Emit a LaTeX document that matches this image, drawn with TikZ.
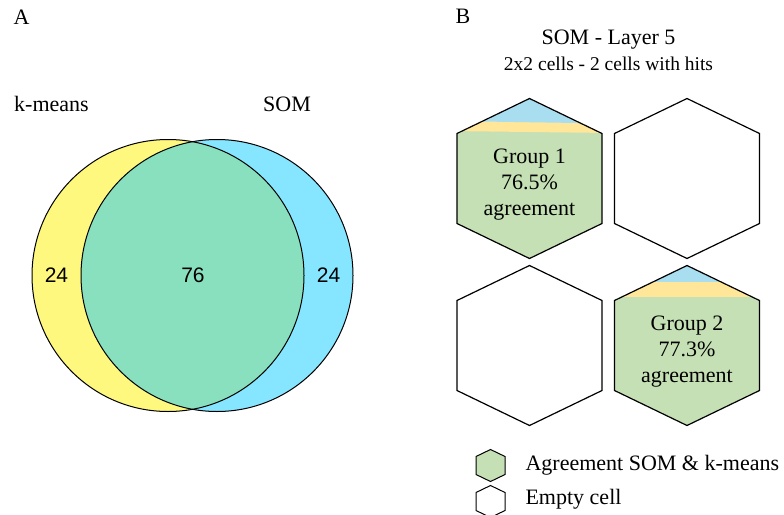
\documentclass[tikz,border=0pt]{standalone}
\usepackage{fontspec}
\setmainfont{Liberation Serif}
\newfontfamily\vennfont{Liberation Sans}
\definecolor{kmyellow}{HTML}{FFF87F}
\definecolor{somblue}{HTML}{87E6FF}
\definecolor{bothgreen}{HTML}{88E0BF}
\definecolor{hexgreen}{HTML}{C5E0B4}
\definecolor{stripblue}{HTML}{A9DDF0}
\definecolor{stripyellow}{HTML}{FFE699}
\tikzset{
  somhex/.pic={\path[pic actions] (0,-80) -- (72.5,-45) -- (72.5,45) -- (0,80) -- (-72.5,45) -- (-72.5,-45) -- cycle;},
  hexline/.style={draw=black,line width=1.2pt,line join=miter},
  serif/.style={font=\fontsize{22}{26}\selectfont},
  count/.style={font=\vennfont\fontsize{21}{24}\selectfont}
}
\begin{document}
\begin{tikzpicture}[x=1pt,y=-1pt]
  \clip (0,0) rectangle (784,514);
  \fill[white] (0,0) rectangle (784,514);
  % panel A
  \node[serif] (la) at (21.5,17) {A};
  \node[serif] (km) at (51.5,104) {k-means};
  \node[serif] (som) at (287,104) {SOM};
  \fill[kmyellow] (168,275.5) circle (136);
  \fill[somblue] (217,275.5) circle (136);
  \begin{scope}
    \clip (168,275.5) circle (136);
    \fill[bothgreen] (217,275.5) circle (136);
  \end{scope}
  \draw[line width=1pt] (168,275.5) circle (136);
  \draw[line width=1pt] (217,275.5) circle (136);
  \node[count] (nk) at (56.5,275) {24};
  \node[count] (nb) at (193,275) {76};
  \node[count] (ns) at (328.5,275) {24};
  % panel B
  \node[serif] (lb) at (463,16) {B};
  \node[serif] (title) at (608.5,40) {SOM - Layer 5};
  \node[font=\fontsize{19.5}{23}\selectfont] (sub) at (608.5,64) {2x2 cells - 2 cells with hits};
  % cell 1
  \begin{scope}[shift={(529.5,178.5)}]
    \clip (0,-80) -- (72.5,-45) -- (72.5,45) -- (0,80) -- (-72.5,45) -- (-72.5,-45) -- cycle;
    \fill[hexgreen] (-80,-90) rectangle (80,90);
    \fill[stripyellow] (-80,-90) -- (80,-90) -- (80,-45.5) -- (-80,-47.5) -- cycle;
    \fill[stripblue] (-80,-90) -- (80,-90) -- (80,-55) -- (-80,-57.5) -- cycle;
  \end{scope}
  \pic[hexline] at (529.5,178.5) {somhex};
  \node[serif,align=center] (g1) at (529.5,185) {Group 1\\76.5\%\\agreement};
  % cell 2
  \pic[hexline,fill=white] at (687,178.5) {somhex};
  % cell 3
  \pic[hexline,fill=white] at (529.5,345.5) {somhex};
  % cell 4
  \begin{scope}[shift={(687,345.5)}]
    \clip (0,-80) -- (72.5,-45) -- (72.5,45) -- (0,80) -- (-72.5,45) -- (-72.5,-45) -- cycle;
    \fill[hexgreen] (-80,-90) rectangle (80,90);
    \fill[stripyellow] (-80,-90) rectangle (80,-48.8);
    \fill[stripblue] (-80,-90) rectangle (80,-63.8);
  \end{scope}
  \pic[hexline] at (687,345.5) {somhex};
  \node[serif,align=center] (g2) at (687,352) {Group 2\\77.3\%\\agreement};
  % legend
  \pic[hexline,line width=1pt,fill=hexgreen,scale=0.2] at (490.5,465.5) {somhex};
  \pic[hexline,line width=1pt,fill=white,scale=0.2] at (490.5,501.5) {somhex};
  \node[serif,anchor=west] (lg1) at (522,465) {Agreement SOM \& k-means};
  \node[serif,anchor=west] (lg2) at (522,499) {Empty cell};
\end{tikzpicture}
\end{document}
